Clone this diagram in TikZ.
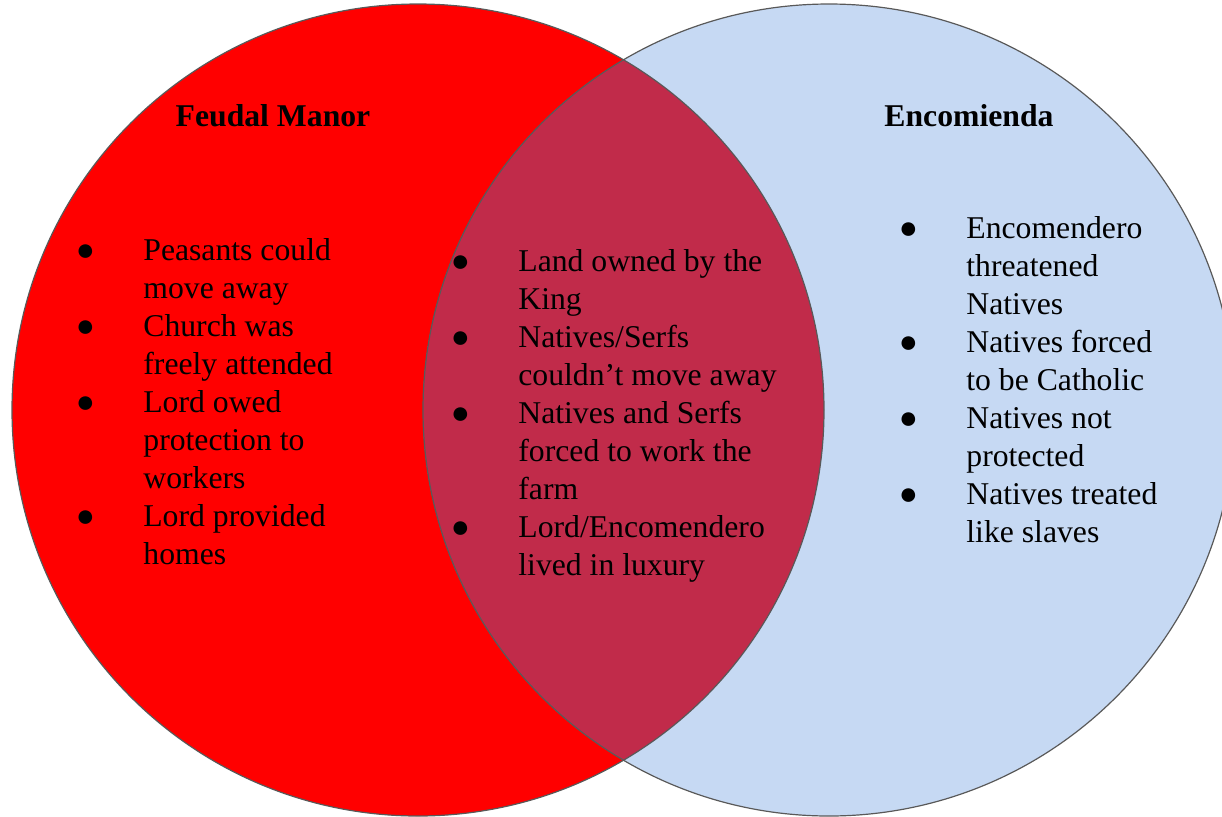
\documentclass[tikz,border=0pt]{standalone}
\usepackage{fontspec}
\setmainfont{Liberation Serif}
\usepackage{xcolor}
\usetikzlibrary{positioning}
\definecolor{manorred}{HTML}{FF0000}
\definecolor{encblue}{HTML}{C6D9F3}
\definecolor{bothred}{HTML}{C12B4A}
\definecolor{rimgray}{HTML}{595959}
\tikzstyle{set} = [circle, minimum size=406pt, inner sep=0pt]
\tikzstyle{rim} = [draw=rimgray, line width=0.6pt]
\tikzstyle{title} = [anchor=base, inner sep=0pt, font=\fontsize{15.85}{19}\selectfont\bfseries]
\tikzstyle{list} = [anchor=north west, align=left, inner sep=0pt, font=\fontsize{15.85}{19}\selectfont]
\newcommand{\bul}{\llap{\makebox[0pt]{●}\hspace{29pt}}}

\begin{document}
\begin{tikzpicture}[x=0.5pt, y=-0.5pt]
            \useasboundingbox (0,0) rectangle (1222,816);
            \node[set, fill=manorred] (manor) at (418,410) {};
            \node[set, fill=encblue] (encomienda) at (829,410) {};
            
            % shared part
            \begin{scope}
                \clip (manor.center) circle[radius=203pt];
                \fill[bothred] (encomienda.center) circle[radius=203pt];
            \end{scope}
            \draw[rim] (manor.center) circle[radius=203pt];
            \draw[rim] (encomienda.center) circle[radius=203pt];
            
            \node[title] (manortitle) at (273,126) {Feudal Manor};
            \node[title] (enctitle) at (969,126) {Encomienda};
            
            \node[list] (manorlist) at (143,233.4) {\strut\bul Peasants could\\ move away\\ \bul Church was\\ freely attended\\ \bul Lord owed\\ protection to\\ workers\\ \bul Lord provided\\ homes};
            \node[list] (bothlist) at (518,244.4) {\strut\bul Land owned by the\\ King\\ \bul Natives/Serfs\\ couldn’t move away\\ \bul Natives and Serfs\\ forced to work the\\ farm\\ \bul Lord/Encomendero\\ lived in luxury};
            \node[list] (enclist) at (966,211.4) {\strut\bul Encomendero\\ threatened\\ Natives\\ \bul Natives forced\\ to be Catholic\\ \bul Natives not\\ protected\\ \bul Natives treated\\ like slaves};
        \end{tikzpicture}
\end{document}
